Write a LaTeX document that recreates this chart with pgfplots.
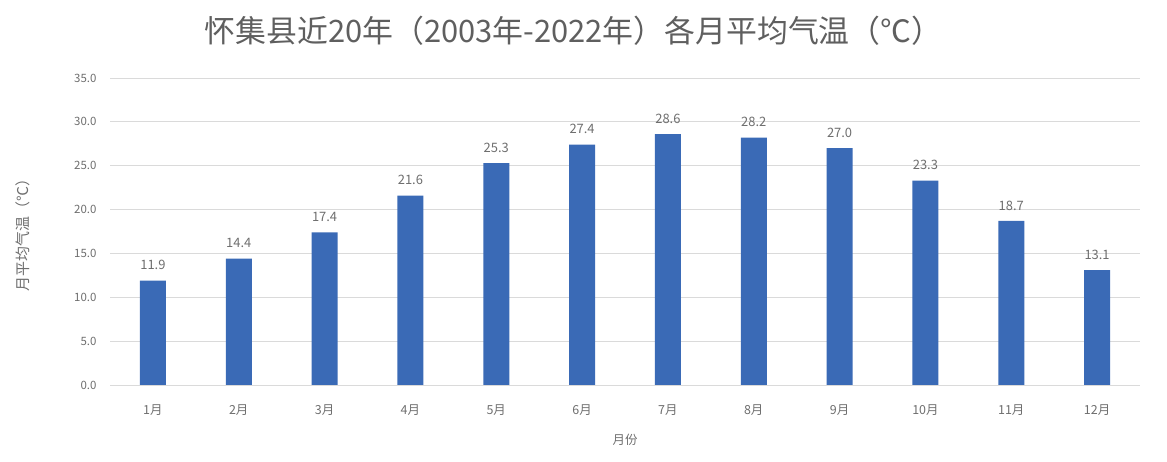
\documentclass[border=0pt]{standalone}
\usepackage{pgfplots}
\pgfplotsset{compat=1.18}
\usepackage{fontspec}
\setmainfont{Noto Sans CJK SC}
\definecolor{barblue}{RGB}{58,106,182}
\definecolor{txtgray}{RGB}{110,110,110}
\definecolor{titlegray}{RGB}{95,95,95}
\definecolor{gridgray}{RGB}{218,218,218}
\begin{document}
\begin{tikzpicture}[x=1bp,y=1bp]
\path (0,0) rectangle (1167,462);
\begin{axis}[
  at={(110bp,77bp)}, anchor=south west,
  scale only axis, width=1030bp, height=307bp,
  ybar, bar width=26bp,
  xmin=0.5, xmax=12.5, ymin=0, ymax=35,
  ytick={0,5,...,35},
  xtick=data,
  xticklabels={1月,2月,3月,4月,5月,6月,7月,8月,9月,10月,11月,12月},
  axis line style={draw=none},
  major tick length=0pt,
  ymajorgrids, grid style={gridgray, line width=0.9pt},
  yticklabel style={font=\fontsize{11.5}{12}\selectfont, text=txtgray, xshift=-10bp},
  xticklabel style={font=\fontsize{12.5}{13}\selectfont, text=txtgray, yshift=-16bp},
  /pgf/number format/.cd, fixed, fixed zerofill, precision=1, assume math mode=true,
  /pgfplots/.cd,
  nodes near coords,
  nodes near coords style={font=\fontsize{13}{14}\selectfont, text=txtgray, yshift=7bp, /pgf/number format/.cd, fixed, fixed zerofill, precision=1, assume math mode=true},
  title={怀集县近20年（2003年-2022年）各月平均气温（℃）},
  title style={at={(axis description cs:0.45,1)}, anchor=south, yshift=23bp, font=\fontsize{31}{33}\selectfont, text=titlegray},
  ylabel={月平均气温（℃）},
  ylabel style={font=\fontsize{15}{16}\selectfont, text=txtgray, at={(axis description cs:-0.085,0.5)}, anchor=center},
  xlabel={月份},
  xlabel style={font=\fontsize{12.5}{13}\selectfont, text=txtgray, yshift=-12bp},
]
\addplot[fill=barblue, draw=none] coordinates {
(1,11.9) (2,14.4) (3,17.4) (4,21.6) (5,25.3) (6,27.4)
(7,28.6) (8,28.2) (9,27.0) (10,23.3) (11,18.7) (12,13.1)};
\end{axis}
\end{tikzpicture}
\end{document}
